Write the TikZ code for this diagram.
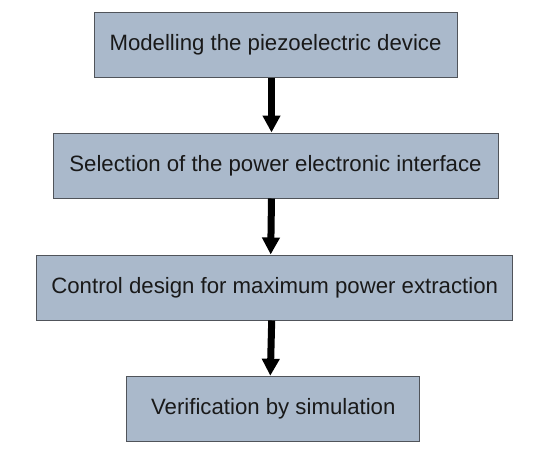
\documentclass[tikz,border=0pt]{standalone}
\usepackage{fontspec}
\setmainfont{Liberation Sans}
\usetikzlibrary{arrows.meta}
\definecolor{boxfill}{RGB}{170,185,203}
\definecolor{boxline}{RGB}{80,84,90}
\begin{document}
\begin{tikzpicture}[x=1pt,y=1pt,
  stepbox/.style={draw=boxline, fill=boxfill, line width=1pt, inner sep=0pt,
    minimum height=65pt, font=\fontsize{22.2}{25}\selectfont, text=black!90},
  flow/.style={line width=7pt, -{Triangle[width=17pt,length=17pt]}}]
\useasboundingbox (0,0) rectangle (539,-463);
\node[stepbox, minimum width=363pt] (b1) at (275.5,-44.5) {Modelling the piezoelectric device};
\node[stepbox, minimum width=445pt] (b2) at (275.5,-165.5) {Selection of the power electronic interface};
\node[stepbox, minimum width=476pt] (b3) at (274.7,-287.5) {Control design for maximum power extraction};
\node[stepbox, minimum width=293pt, minimum height=65.5pt] (b4) at (273.3,-409) {Verification by simulation};
\draw[flow] ([xshift=-4pt]b1.south) -- ([xshift=-4pt]b2.north);
\draw[flow] ([xshift=-4pt]b2.south) -- ([xshift=-4pt]b3.north);
\draw[flow] ([xshift=-3pt]b3.south) -- ([xshift=-3pt]b4.north);
\end{tikzpicture}
\end{document}
